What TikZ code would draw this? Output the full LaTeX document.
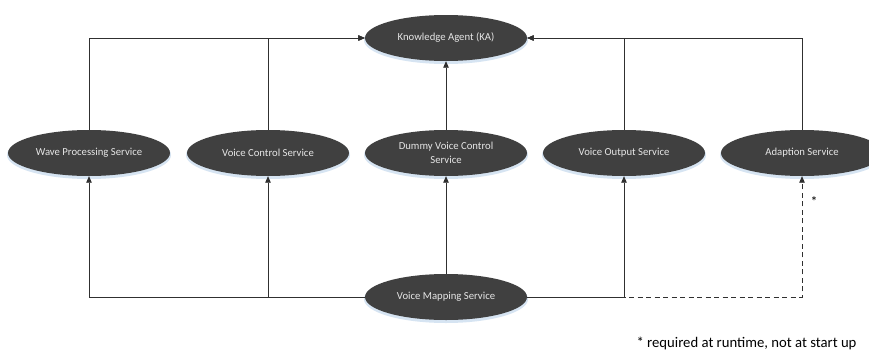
\documentclass[tikz,border=0pt]{standalone}
\usepackage{fontspec}
\setmainfont{Carlito}
\usetikzlibrary{shapes.geometric,arrows.meta}
\definecolor{svcfill}{HTML}{404040}
\definecolor{svctext}{HTML}{E6E6E6}
\definecolor{glow}{HTML}{D6E4F2}
\definecolor{wire}{HTML}{303030}
\tikzset{
  svc/.style={ellipse, fill=svcfill, text=svctext, minimum width=162pt,
    minimum height=46pt, inner sep=0pt, align=center,
    font=\fontsize{10.7}{14}\selectfont},
  halo/.style={ellipse, fill=glow, minimum width=164pt, minimum height=48pt,
    inner sep=0pt},
  arr/.style={draw=wire, line width=0.8pt, -{Triangle[length=6.5pt,width=5.5pt]}},
  lazy/.style={arr, dash pattern=on 5pt off 3.5pt},
}
\begin{document}
\begin{tikzpicture}[x=1pt,y=-1pt]
  \useasboundingbox (0,0) rectangle (869,356);
  \clip (0,0) rectangle (869,356);
  \fill[white] (0,0) rectangle (869,356);

  % soft halo beneath every service
  \foreach \p in {(446,40),(89,155),(268,155),(446,155),(624,155),(802,155),(446,299)}
    \node[halo] at \p {};

  \node[svc] (ka)    at (446,38)  {Knowledge Agent (KA)};
  \node[svc] (wave)  at (89,153)  {Wave Processing Service};
  \node[svc] (vc)    at (268,153) {Voice Control Service};
  \node[svc] (dummy) at (446,153) {Dummy Voice Control\\Service};
  \node[svc] (vo)    at (624,153) {Voice Output Service};
  \node[svc] (ad)    at (802,153) {Adaption Service};
  \node[svc] (vm)    at (446,297) {Voice Mapping Service};

  % services report to the knowledge agent
  \draw[arr] (wave.north) |- (ka.west);
  \draw[arr] (vc.north)   |- (ka.west);
  \draw[arr] (dummy.north) -- (ka.south);
  \draw[arr] (vo.north)   |- (ka.east);
  \draw[arr] (ad.north)   |- (ka.east);

  % voice mapping feeds the services
  \draw[lazy] (vm.east) -| (ad.south);
  \draw[arr] (vm.west)  -| (wave.south);
  \draw[arr] (vm.west)  -| (vc.south);
  \draw[arr] (vm.north) -- (dummy.south);
  \draw[arr] (vm.east)  -| (vo.south);

  \node[font=\fontsize{14}{16}\selectfont] (star) at (814,202) {*};
  \node[anchor=east, font=\fontsize{14.7}{17}\selectfont] (note) at (860,343)
    {* required at runtime, not at start up};
\end{tikzpicture}
\end{document}
